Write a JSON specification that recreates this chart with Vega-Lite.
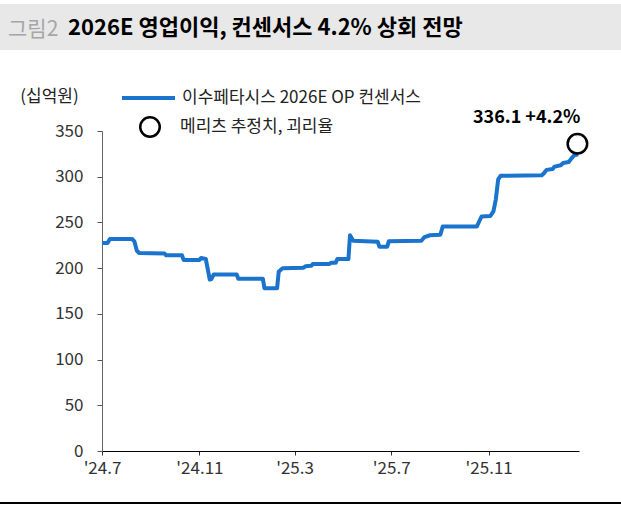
{
  "$schema": "https://vega.github.io/schema/vega-lite/v6.json",
  "padding": {"top": 4, "left": 0, "right": 0, "bottom": 0},
  "spacing": 37,
  "config": {
    "font": "Noto Sans CJK KR",
    "view": {"stroke": null}
  },
  "datasets": {
    "consensus": [
      {"d": "2024-07-01", "v": 227.5},
      {"d": "2024-07-08", "v": 227.5},
      {"d": "2024-07-11", "v": 232},
      {"d": "2024-08-08", "v": 232},
      {"d": "2024-08-11", "v": 229},
      {"d": "2024-08-14", "v": 219},
      {"d": "2024-08-17", "v": 216.5},
      {"d": "2024-09-18", "v": 216},
      {"d": "2024-09-20", "v": 214},
      {"d": "2024-10-10", "v": 214},
      {"d": "2024-10-12", "v": 209},
      {"d": "2024-11-01", "v": 209},
      {"d": "2024-11-03", "v": 211},
      {"d": "2024-11-09", "v": 210},
      {"d": "2024-11-14", "v": 187.5},
      {"d": "2024-11-16", "v": 188},
      {"d": "2024-11-19", "v": 193},
      {"d": "2024-12-18", "v": 193},
      {"d": "2024-12-20", "v": 188.5},
      {"d": "2025-01-20", "v": 188.5},
      {"d": "2025-01-22", "v": 178},
      {"d": "2025-02-07", "v": 178},
      {"d": "2025-02-09", "v": 196},
      {"d": "2025-02-14", "v": 200},
      {"d": "2025-03-12", "v": 200.5},
      {"d": "2025-03-15", "v": 202},
      {"d": "2025-03-22", "v": 202.5},
      {"d": "2025-03-24", "v": 204.5},
      {"d": "2025-04-14", "v": 204.5},
      {"d": "2025-04-16", "v": 206},
      {"d": "2025-04-22", "v": 206},
      {"d": "2025-04-24", "v": 210},
      {"d": "2025-05-08", "v": 210},
      {"d": "2025-05-10", "v": 236},
      {"d": "2025-05-14", "v": 230},
      {"d": "2025-06-14", "v": 229},
      {"d": "2025-06-16", "v": 223.5},
      {"d": "2025-06-26", "v": 223.5},
      {"d": "2025-06-28", "v": 229.5},
      {"d": "2025-08-08", "v": 230},
      {"d": "2025-08-12", "v": 234},
      {"d": "2025-08-19", "v": 236},
      {"d": "2025-09-01", "v": 236.5},
      {"d": "2025-09-04", "v": 245.5},
      {"d": "2025-10-17", "v": 245.5},
      {"d": "2025-10-20", "v": 251},
      {"d": "2025-10-23", "v": 256.5},
      {"d": "2025-11-03", "v": 257},
      {"d": "2025-11-07", "v": 262},
      {"d": "2025-11-10", "v": 275},
      {"d": "2025-11-13", "v": 297},
      {"d": "2025-11-16", "v": 301},
      {"d": "2026-01-07", "v": 301.5},
      {"d": "2026-01-10", "v": 304},
      {"d": "2026-01-13", "v": 307.5},
      {"d": "2026-01-21", "v": 308.5},
      {"d": "2026-01-23", "v": 311},
      {"d": "2026-01-31", "v": 312.5},
      {"d": "2026-02-03", "v": 315},
      {"d": "2026-02-10", "v": 316},
      {"d": "2026-02-13", "v": 319.5},
      {"d": "2026-02-17", "v": 323.5},
      {"d": "2026-02-22", "v": 324.5}
    ],
    "estimate": [
      {"d": "2026-02-21", "v": 336.1, "label": "336.1 +4.2%"}
    ]
  },
  "vconcat": [
    {
      "spacing": 0,
      "hconcat": [
        {
          "width": 60,
          "height": 46,
          "view": {"fill": "#e8e8e8", "stroke": null},
          "data": {"values": []},
          "mark": "text",
          "title": {"text": "그림2", "color": "#a6a6a6", "fontSize": 21, "fontWeight": "normal", "font": "Noto Sans CJK KR", "anchor": "start", "offset": 0, "dx": 8, "dy": 53, "baseline": "alphabetic"}
        },
        {
          "width": 561,
          "height": 46,
          "view": {"fill": "#e8e8e8", "stroke": null},
          "data": {"values": []},
          "mark": "text",
          "title": {"text": "2026E 영업이익, 컨센서스 4.2% 상회 전망", "color": "#000000", "fontSize": 22, "fontWeight": "bold", "font": "Noto Sans CJK KR", "anchor": "start", "offset": 0, "dx": 8, "dy": 53, "baseline": "alphabetic"}
        }
      ]
    },
    {
      "spacing": 26,
      "vconcat": [
        {
          "spacing": 0,
          "hconcat": [
            {
              "width": 19,
              "height": 10,
              "view": {"fill": "#ffffff", "stroke": null},
              "data": {"values": []},
              "mark": "text"
            },
            {
              "width": 477,
              "height": 320,
              "layer": [
                {
                  "data": {"name": "consensus"},
                  "mark": {"type": "line", "strokeWidth": 4, "interpolate": "linear", "strokeJoin": "round"},
                  "encoding": {
                    "x": {
                      "field": "d", "type": "temporal",
                      "scale": {"domain": [{"year": 2024, "month": 7, "date": 1}, {"year": 2026, "month": 2, "date": 23}]},
                      "axis": {
                        "title": null,
                        "values": [
                          {"year": 2024, "month": 7, "date": 1},
                          {"year": 2024, "month": 11, "date": 1},
                          {"year": 2025, "month": 3, "date": 1},
                          {"year": 2025, "month": 7, "date": 1},
                          {"year": 2025, "month": 11, "date": 1}
                        ],
                        "format": "'%y.%-m",
                        "labelFontSize": 17,
                        "labelColor": "#333333",
                        "labelFont": "Noto Sans CJK KR",
                        "labelPadding": 5,
                        "tickSize": 4,
                        "tickColor": "#333333",
                        "domainColor": "#000000",
                        "domainWidth": 1.2,
                        "grid": false,
                        "labelFlush": false
                      }
                    },
                    "y": {
                      "field": "v", "type": "quantitative",
                      "scale": {"domain": [0, 350]},
                      "axis": {
                        "values": [0, 50, 100, 150, 200, 250, 300, 350],
                        "title": "(십억원)",
                        "titleAngle": 0,
                        "titleAlign": "center",
                        "titleBaseline": "middle",
                        "titleX": -53,
                        "titleY": -35,
                        "titleFontSize": 17,
                        "titleFontWeight": "normal",
                        "titleColor": "#222222",
                        "titleFont": "Noto Sans CJK KR",
                        "labelFontSize": 17,
                        "labelColor": "#333333",
                        "labelFont": "Noto Sans CJK KR",
                        "labelPadding": 14,
                        "tickSize": 5,
                        "tickColor": "#555555",
                        "domainColor": "#666666",
                        "grid": false
                      }
                    },
                    "color": {
                      "datum": "이수페타시스 2026E OP 컨센서스",
                      "scale": {"range": ["#1a73cc"]},
                      "legend": {
                        "title": null,
                        "orient": "none",
                        "legendX": 120,
                        "legendY": 65.5,
                        "padding": 0,
                        "symbolType": "stroke",
                        "symbolSize": 2809,
                        "symbolStrokeWidth": 4,
                        "labelFontSize": 17,
                        "labelFont": "Noto Sans CJK KR",
                        "labelColor": "#222222",
                        "labelOffset": 5,
                        "labelLimit": 500
                      }
                    }
                  }
                },
                {
                  "data": {"name": "estimate"},
                  "mark": {"type": "point", "filled": false, "color": "#000000", "stroke": "#000000", "strokeWidth": 2.5, "size": 380, "opacity": 1},
                  "encoding": {
                    "x": {"field": "d", "type": "temporal"},
                    "y": {"field": "v", "type": "quantitative"},
                    "shape": {
                      "datum": "메리츠 추정치, 괴리율",
                      "scale": {"range": ["circle"]},
                      "legend": {
                        "title": null,
                        "orient": "none",
                        "legendX": 139,
                        "legendY": 112,
                        "padding": 0,
                        "symbolSize": 380,
                        "symbolStrokeWidth": 2.5,
                        "symbolStrokeColor": "#000000",
                        "symbolFillColor": "#ffffff",
                        "labelFontSize": 17,
                        "labelFont": "Noto Sans CJK KR",
                        "labelColor": "#222222",
                        "labelOffset": 19,
                        "labelLimit": 500
                      }
                    }
                  }
                },
                {
                  "data": {"name": "estimate"},
                  "mark": {"type": "text", "align": "right", "baseline": "alphabetic", "dx": 3, "dy": -21, "fontSize": 18, "fontWeight": "bold", "font": "Noto Sans CJK KR", "color": "#000000"},
                  "encoding": {
                    "x": {"field": "d", "type": "temporal"},
                    "y": {"field": "v", "type": "quantitative"},
                    "text": {"field": "label"}
                  }
                }
              ]
            }
          ]
        },
        {
          "width": 621,
          "height": 2,
          "view": {"fill": "#000000", "stroke": null},
          "data": {"values": []},
          "mark": "text"
        }
      ]
    }
  ]
}
